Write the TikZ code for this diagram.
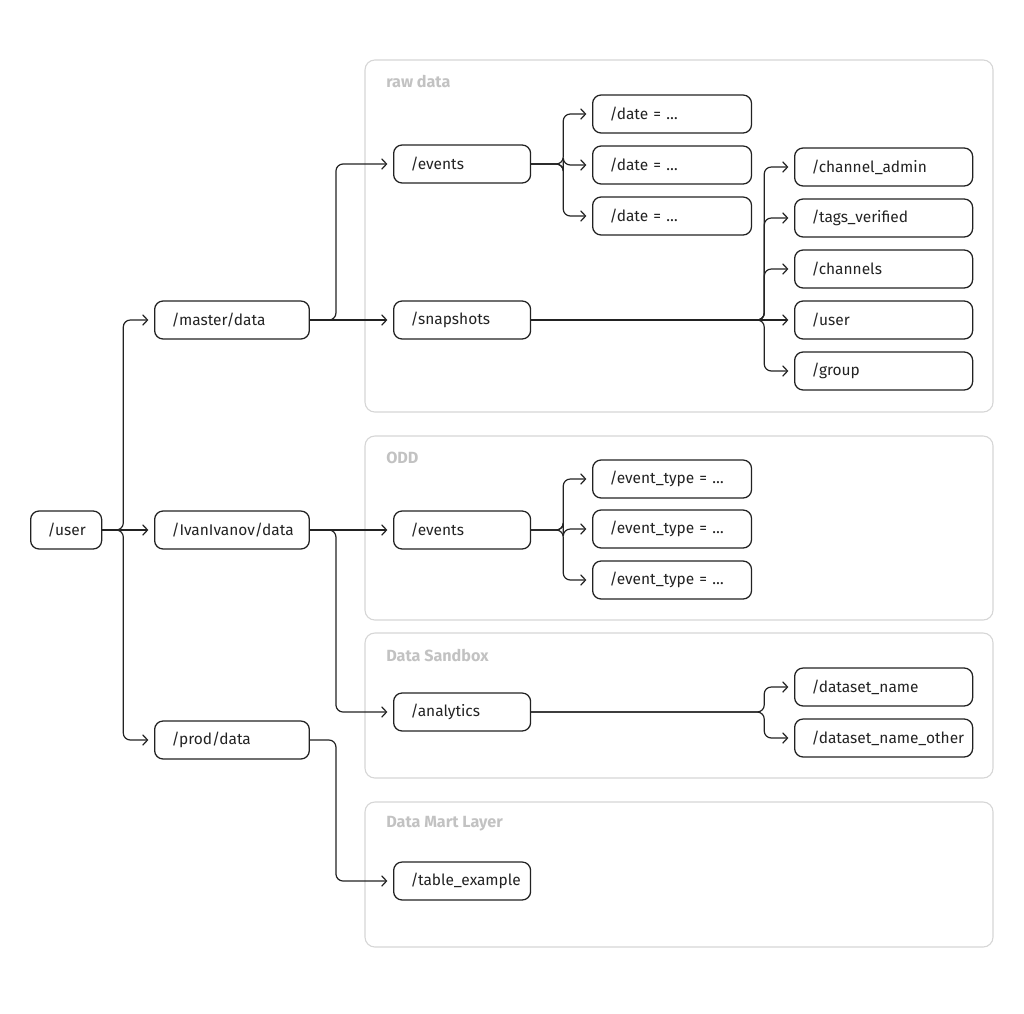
\documentclass[tikz,border=0pt]{standalone}
\usepackage{fontspec}
\setmainfont{Fira Sans}
\usetikzlibrary{calc,positioning,arrows.meta}

\definecolor{ink}{HTML}{222222}
\definecolor{grpline}{HTML}{D6D6D6}
\definecolor{grptext}{HTML}{C2C2C2}

\tikzset{
  dir/.style={draw=ink, line width=0.9pt, rounded corners=6pt,
    minimum height=27pt, inner xsep=12pt, inner ysep=0pt,
    align=left, anchor=west, text=ink},
  wuser/.style={dir, text width=26.5pt},
  wmid/.style={dir, text width=86pt},
  wsub/.style={dir, text width=73.4pt},
  wleaf/.style={dir, text width=89pt},
  wwide/.style={dir, text width=102.6pt},
  edge/.style={draw=ink, line width=0.85pt, rounded corners=5pt,
    -{Straight Barb[length=3.5pt, width=7.5pt, line width=0.85pt]},
    shorten >=4pt},
  grp/.style={draw=grpline, line width=0.8pt, rounded corners=7pt},
  grplabel/.style={anchor=west, inner sep=0pt, text=grptext,
    font=\fontsize{11.5}{13}\selectfont\bfseries}
}

\begin{document}
\begin{tikzpicture}[
    x=0.025cm, y=-0.025cm, font=\fontsize{11}{13}\selectfont]

    \useasboundingbox (0,0) rectangle (1024,1013);

    % groups

    \draw[grp] (365,60) rectangle (993,412);
    \draw[grp] (365,436) rectangle (993,620);
    \draw[grp] (365,633) rectangle (993,778);
    \draw[grp] (365,802) rectangle (993,947);

    \node[grplabel] (g0) at (386,81) {raw data};
    \node[grplabel] (g1) at (386,458) {ODD};
    \node[grplabel] (g2) at (386,655) {Data Sandbox};
    \node[grplabel] (g3) at (386,824) {Data Mart Layer};

    % vertices

    \node[wuser] (0) at (30,530) {/user};

    \node[wmid] (10) at (154,320) {/master/data};
    \node[wmid] (11) at (154,530) {/IvanIvanov/data};
    \node[wmid] (12) at (154,740) {/prod/data};

    \node[wsub] (20) at (393,164) {/events};
    \node[wsub] (21) at (393,320) {/snapshots};
    \node[wsub] (22) at (393,530) {/events};
    \node[wsub] (23) at (393,712) {/analytics};
    \node[wsub] (24) at (393,881) {/table\_example};

    \node[wleaf] (30) at (592,114) {/date = \dots};
    \node[wleaf] (31) at (592,165) {/date = \dots};
    \node[wleaf] (32) at (592,216) {/date = \dots};

    \node[wwide] (33) at (794,167) {/channel\_admin};
    \node[wwide] (34) at (794,218) {/tags\_verified};
    \node[wwide] (35) at (794,269) {/channels};
    \node[wwide] (36) at (794,320) {/user};
    \node[wwide] (37) at (794,371) {/group};

    \node[wleaf] (38) at (592,479) {/event\_type = \dots};
    \node[wleaf] (39) at (592,529) {/event\_type = \dots};
    \node[wleaf] (40) at (592,580) {/event\_type = \dots};

    \node[wwide] (41) at (794,687) {/dataset\_name};
    \node[wwide] (42) at (794,738) {/dataset\_name\_other};

    % edges

    \draw[edge] (0.east) -- ++(21,0) |- (10.west);
    \draw[edge] (0.east) -- (11.west);
    \draw[edge] (0.east) -- ++(21,0) |- (12.west);

    \draw[edge] (10.east) -- ++(26,0) |- (20.west);
    \draw[edge] (10.east) -- (21.west);
    \draw[edge] (11.east) -- (22.west);
    \draw[edge] (11.east) -- ++(26,0) |- (23.west);
    \draw[edge] (12.east) -- ++(26,0) |- (24.west);

    \draw[edge] (20.east) -- ++(32,0) |- (30.west);
    \draw[edge] (20.east) -- ++(32,0) |- (31.west);
    \draw[edge] (20.east) -- ++(32,0) |- (32.west);

    \draw[edge] (21.east) -- ++(233,0) |- (33.west);
    \draw[edge] (21.east) -- ++(233,0) |- (34.west);
    \draw[edge] (21.east) -- ++(233,0) |- (35.west);
    \draw[edge] (21.east) -- (36.west);
    \draw[edge] (21.east) -- ++(233,0) |- (37.west);

    \draw[edge] (22.east) -- ++(32,0) |- (38.west);
    \draw[edge] (22.east) -- ++(32,0) |- (39.west);
    \draw[edge] (22.east) -- ++(32,0) |- (40.west);

    \draw[edge] (23.east) -- ++(233,0) |- (41.west);
    \draw[edge] (23.east) -- ++(233,0) |- (42.west);
  \end{tikzpicture}
\end{document}
